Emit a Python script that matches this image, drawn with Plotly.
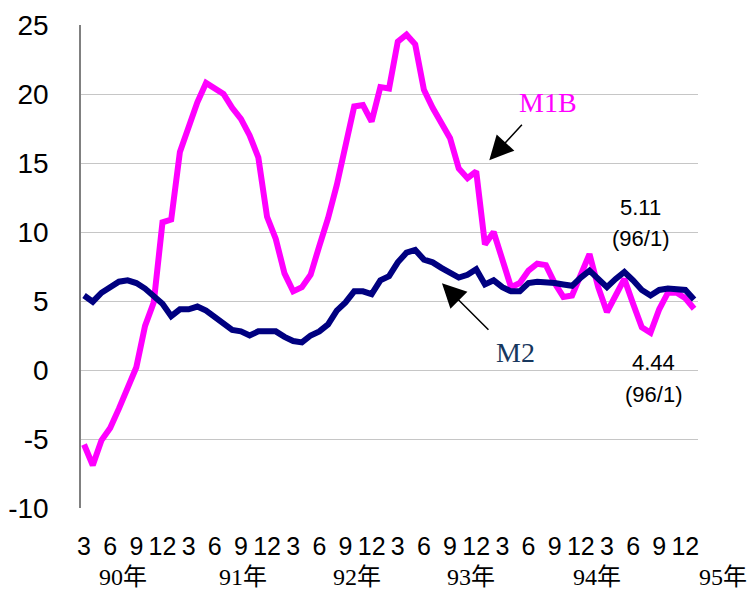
import plotly.graph_objects as go

# ---- categories (month periods, ROC year/month) ----
periods = [
    "90/3", "90/4", "90/5", "90/6", "90/7", "90/8", "90/9", "90/10", "90/11", "90/12",
    "91/1", "91/2", "91/3", "91/4", "91/5", "91/6", "91/7", "91/8", "91/9", "91/10", "91/11", "91/12",
    "92/1", "92/2", "92/3", "92/4", "92/5", "92/6", "92/7", "92/8", "92/9", "92/10", "92/11", "92/12",
    "93/1", "93/2", "93/3", "93/4", "93/5", "93/6", "93/7", "93/8", "93/9", "93/10", "93/11", "93/12",
    "94/1", "94/2", "94/3", "94/4", "94/5", "94/6", "94/7", "94/8", "94/9", "94/10", "94/11", "94/12",
    "95/1", "95/2", "95/3", "95/4", "95/5", "95/6", "95/7", "95/8", "95/9", "95/10", "95/11", "95/12",
    "96/1",
]

# ---- series values (annual growth rate, %) ----
m1b = [
    -5.4, -6.9, -5.1, -4.2, -2.8, -1.3, 0.2, 3.2, 4.9, 10.7,
    10.9, 15.8, 17.6, 19.4, 20.8, 20.4, 20.0, 19.0, 18.2, 17.0, 15.4, 11.1,
    9.5, 7.0, 5.7, 6.0, 6.9, 9.0, 11.0, 13.4, 16.1, 19.1, 19.2, 18.0,
    20.5, 20.4, 23.8, 24.3, 23.6, 20.3, 19.0, 18.0, 16.8, 14.6, 13.9, 14.4,
    9.1, 10.0, 8.0, 6.0, 6.3, 7.2, 7.7, 7.6, 6.3, 5.3, 5.4, 6.8,
    8.4, 6.0, 4.2, 5.4, 6.6, 4.8, 3.1, 2.7, 4.4, 5.6, 5.6, 5.2,
    4.44,
]
m2 = [
    5.4, 4.95, 5.6, 6.0, 6.4, 6.5, 6.3, 5.9, 5.3, 4.8,
    3.9, 4.4, 4.4, 4.6, 4.3, 3.8, 3.3, 2.9, 2.8, 2.5, 2.8, 2.75,
    2.8, 2.4, 2.1, 2.0, 2.5, 2.8, 3.3, 4.3, 4.9, 5.7, 5.7, 5.5,
    6.5, 6.8, 7.8, 8.5, 8.7, 8.0, 7.8, 7.4, 7.0, 6.7, 6.9, 7.3,
    6.2, 6.5, 6.0, 5.7, 5.7, 6.3, 6.4, 6.4, 6.3, 6.2, 6.1, 6.7,
    7.2, 6.6, 6.0, 6.6, 7.1, 6.5, 5.8, 5.4, 5.8, 5.9, 5.9, 5.8,
    5.11,
]

# ---- tick labels ----
tick_text = ["3", "6", "9", "12"] * 6
tick_vals = periods[0:72:3]
year_labels = ["90年", "91年", "92年", "93年", "94年", "95年"]
y_ticks = [-10, -5, 0, 5, 10, 15, 20, 25]
y_tick_text = ["-10", "-5", "0", "5", "10", "15", "20", "25"]

SANS = "Liberation Sans, Arial, sans-serif"
SERIF = "Liberation Serif, Times New Roman, Noto Sans CJK TC, serif"
YEAR_FONT = "Liberation Serif, Noto Sans CJK TC, serif"

fig = go.Figure()
fig.add_trace(go.Scatter(x=periods, y=m1b, mode="lines", name="M1B",
                         line=dict(color="#FF00FF", width=6)))
fig.add_trace(go.Scatter(x=periods, y=m2, mode="lines", name="M2",
                         line=dict(color="#000080", width=6)))

W, H = 752, 590
L, R, T, B = 81, 54, 25, 82
pw, ph = W - L - R, H - T - B


def px2paper(px, py):
    return (px - L) / pw, (H - B - py) / ph


annotations = []
# year labels under the month ticks
year_px = [123, 243, 357, 471, 597, 723]
for lab, xp in zip(year_labels, year_px):
    xx, yy = px2paper(xp, 577)
    annotations.append(dict(xref="paper", yref="paper", x=xx, y=yy, text=lab,
                            xanchor="center", yanchor="middle",
                            showarrow=False, font=dict(family=YEAR_FONT, size=24, color="black")))

# series labels
annotations.append(dict(x=53.2, y=19.35, text="M1B", showarrow=False,
                        xanchor="center", yanchor="middle",
                        font=dict(family=SERIF, size=28, color="#FF00FF")))
annotations.append(dict(x=49.5, y=1.27, text="M2", showarrow=False,
                        xanchor="center", yanchor="middle",
                        font=dict(family=SERIF, size=28, color="#17375E")))
# arrows
annotations.append(dict(x=46.5, y=15.2, text="", showarrow=True, arrowhead=2,
                        arrowsize=3.2, arrowwidth=1.5, arrowcolor="black",
                        ax=34, ay=-37, standoff=0))
annotations.append(dict(x=41.07, y=6.28, text="", showarrow=True, arrowhead=2,
                        arrowsize=3.2, arrowwidth=1.5, arrowcolor="black",
                        ax=48, ay=48, standoff=0))
# end values
for txt, xx, yy in [("5.11", 63.8, 11.74), ("(96/1)", 63.9, 9.53),
                    ("4.44", 65.3, 0.51), ("(96/1)", 65.4, -1.74)]:
    annotations.append(dict(x=xx, y=yy, text=txt, showarrow=False,
                            xanchor="center", yanchor="middle",
                            font=dict(family=SANS, size=22, color="black")))

fig.update_layout(
    width=W, height=H,
    margin=dict(l=L, r=R, t=T, b=B, pad=0, autoexpand=False),
    paper_bgcolor="white", plot_bgcolor="white",
    showlegend=False,
    annotations=annotations,
    xaxis=dict(
        type="category",
        range=[-0.35, 70.45],
        automargin=False,
        tickmode="array", tickvals=tick_vals, ticktext=tick_text,
        tickangle=0,
        showgrid=False, showline=False, zeroline=False, ticks="",
        ticklabelstandoff=21,
        tickfont=dict(family=SANS, size=25, color="black"),
    ),
    yaxis=dict(
        range=[-10, 25],
        automargin=False,
        tickmode="array", tickvals=y_ticks, ticktext=y_tick_text,
        showgrid=True, gridcolor="#C6C6C6", gridwidth=1,
        zeroline=False,
        showline=True, linecolor="#808080", linewidth=1.5,
        ticks="",
        ticklabelstandoff=25,
        tickfont=dict(family=SANS, size=28, color="black"),
    ),
)

fig.write_html("out.html", config={"displayModeBar": False},
               post_script="document.body.style.margin='0';")
